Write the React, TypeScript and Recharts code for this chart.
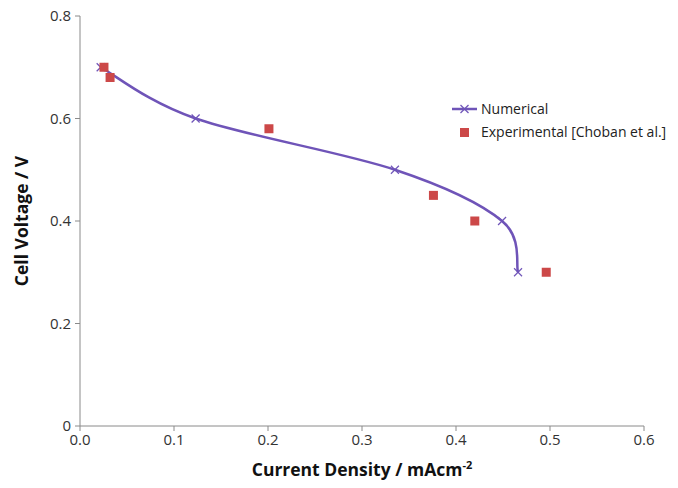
import { ComposedChart, Line, Scatter, XAxis, YAxis } from "recharts";

const numericalX = [0.022, 0.123, 0.335, 0.449, 0.466];
const numericalY = [0.7, 0.6, 0.5, 0.4, 0.3];

const experimentalX = [0.0255, 0.032, 0.201, 0.376, 0.42, 0.496];
const experimentalY = [0.7, 0.68, 0.58, 0.45, 0.4, 0.3];

const xTicks = [0, 0.1, 0.2, 0.3, 0.4, 0.5, 0.6];
const yTicks = [0, 0.2, 0.4, 0.6, 0.8];

const numerical = numericalX.map((x, i) => ({ x, y: numericalY[i] }));
const experimental = experimentalX.map((x, i) => ({ x, y: experimentalY[i] }));

const LINE = "#6f54b8";
const RED = "#cc4848";
const AXIS = "#8a8a8a";
const FONT = "'Open Sans', sans-serif";

// spreadsheet-style smoothed line (catmull-rom like bezier)
const smoothCurve = (context: any) => {
  let pts: number[][] = [];
  return {
    areaStart() {},
    areaEnd() {},
    lineStart() {
      pts = [];
    },
    point(x: number, y: number) {
      pts.push([+x, +y]);
    },
    lineEnd() {
      if (!pts.length) return;
      context.moveTo(pts[0][0], pts[0][1]);
      for (let i = 0; i < pts.length - 1; i++) {
        const p0 = pts[Math.max(i - 1, 0)];
        const p1 = pts[i];
        const p2 = pts[i + 1];
        const p3 = pts[Math.min(i + 2, pts.length - 1)];
        context.bezierCurveTo(
          p1[0] + (p2[0] - p0[0]) / 6,
          p1[1] + (p2[1] - p0[1]) / 6,
          p2[0] - (p3[0] - p1[0]) / 6,
          p2[1] - (p3[1] - p1[1]) / 6,
          p2[0],
          p2[1]
        );
      }
    },
  };
};

const Cross = (props: any) => {
  const { cx, cy } = props;
  if (cx == null || cy == null) return null;
  const s = 4;
  return (
    <g stroke={LINE} strokeWidth={1.2}>
      <line x1={cx - s} y1={cy - s} x2={cx + s} y2={cy + s} />
      <line x1={cx - s} y1={cy + s} x2={cx + s} y2={cy - s} />
    </g>
  );
};

const Square = (props: any) => {
  const { cx, cy } = props;
  return <rect x={cx - 4.5} y={cy - 4.5} width={9} height={9} fill={RED} />;
};

const LegendBox = () => (
  <div
    style={{
      position: "absolute",
      left: 451,
      top: 97,
      fontFamily: FONT,
      fontSize: 14,
      color: "#222",
    }}
  >
    <div style={{ display: "flex", alignItems: "center", height: 23 }}>
      <svg width={27} height={12}>
        <line x1={1} y1={6} x2={26} y2={6} stroke={LINE} strokeWidth={2.5} />
        <line x1={9.5} y1={2} x2={17.5} y2={10} stroke={LINE} strokeWidth={1.2} />
        <line x1={9.5} y1={10} x2={17.5} y2={2} stroke={LINE} strokeWidth={1.2} />
      </svg>
      <span style={{ marginLeft: 3 }}>Numerical</span>
    </div>
    <div style={{ display: "flex", alignItems: "center", height: 23 }}>
      <svg width={27} height={12}>
        <rect x={9} y={2} width={9} height={9} fill={RED} />
      </svg>
      <span style={{ marginLeft: 3 }}>Experimental [Choban et al.]</span>
    </div>
  </div>
);

export default function App() {
  return (
    <div
      style={{
        position: "absolute",
        left: 0,
        top: 0,
        width: 678,
        height: 488,
        background: "#fff",
      }}
    >
      <ComposedChart
        width={678}
        height={488}
        margin={{ top: 16, right: 34, bottom: 0, left: 0 }}
      >
        <XAxis
          type="number"
          dataKey="x"
          domain={[0, 0.6]}
          ticks={xTicks}
          tickFormatter={(v: number) => v.toFixed(1)}
          height={62}
          stroke={AXIS}
          tickSize={5}
          tickMargin={3}
          tick={{ fill: "#333", fontSize: 15, fontFamily: FONT }}
          allowDataOverflow
          label={({ viewBox }: any) => (
            <text
              x={viewBox.x + viewBox.width / 2}
              y={viewBox.y + 50}
              textAnchor="middle"
              fontFamily={FONT}
              fontWeight="bold"
              fontSize={17.5}
              fill="#111"
            >
              Current Density / mAcm
              <tspan dy={-7} fontSize={11}>
                -2
              </tspan>
            </text>
          )}
        />
        <YAxis
          type="number"
          dataKey="y"
          domain={[0, 0.8]}
          ticks={yTicks}
          tickFormatter={(v: number) => (v === 0 ? "0" : v.toFixed(1))}
          width={80}
          stroke={AXIS}
          tickSize={5}
          tickMargin={4}
          tick={{ fill: "#333", fontSize: 15, fontFamily: FONT }}
          label={({ viewBox }: any) => (
            <text
              x={23}
              y={viewBox.y + viewBox.height / 2}
              textAnchor="middle"
              dominantBaseline="middle"
              transform={`rotate(-90, 23, ${viewBox.y + viewBox.height / 2})`}
              fontFamily={FONT}
              fontWeight="bold"
              fontSize={17.5}
              fill="#111"
            >
              Cell Voltage / V
            </text>
          )}
        />
        <Line
          data={numerical}
          dataKey="y"
          type={smoothCurve as any}
          stroke={LINE}
          strokeWidth={2.5}
          dot={<Cross />}
          activeDot={false}
          isAnimationActive={false}
        />
        <Scatter
          data={experimental}
          dataKey="y"
          fill={RED}
          shape={<Square />}
          isAnimationActive={false}
        />
      </ComposedChart>
      <LegendBox />
    </div>
  );
}
